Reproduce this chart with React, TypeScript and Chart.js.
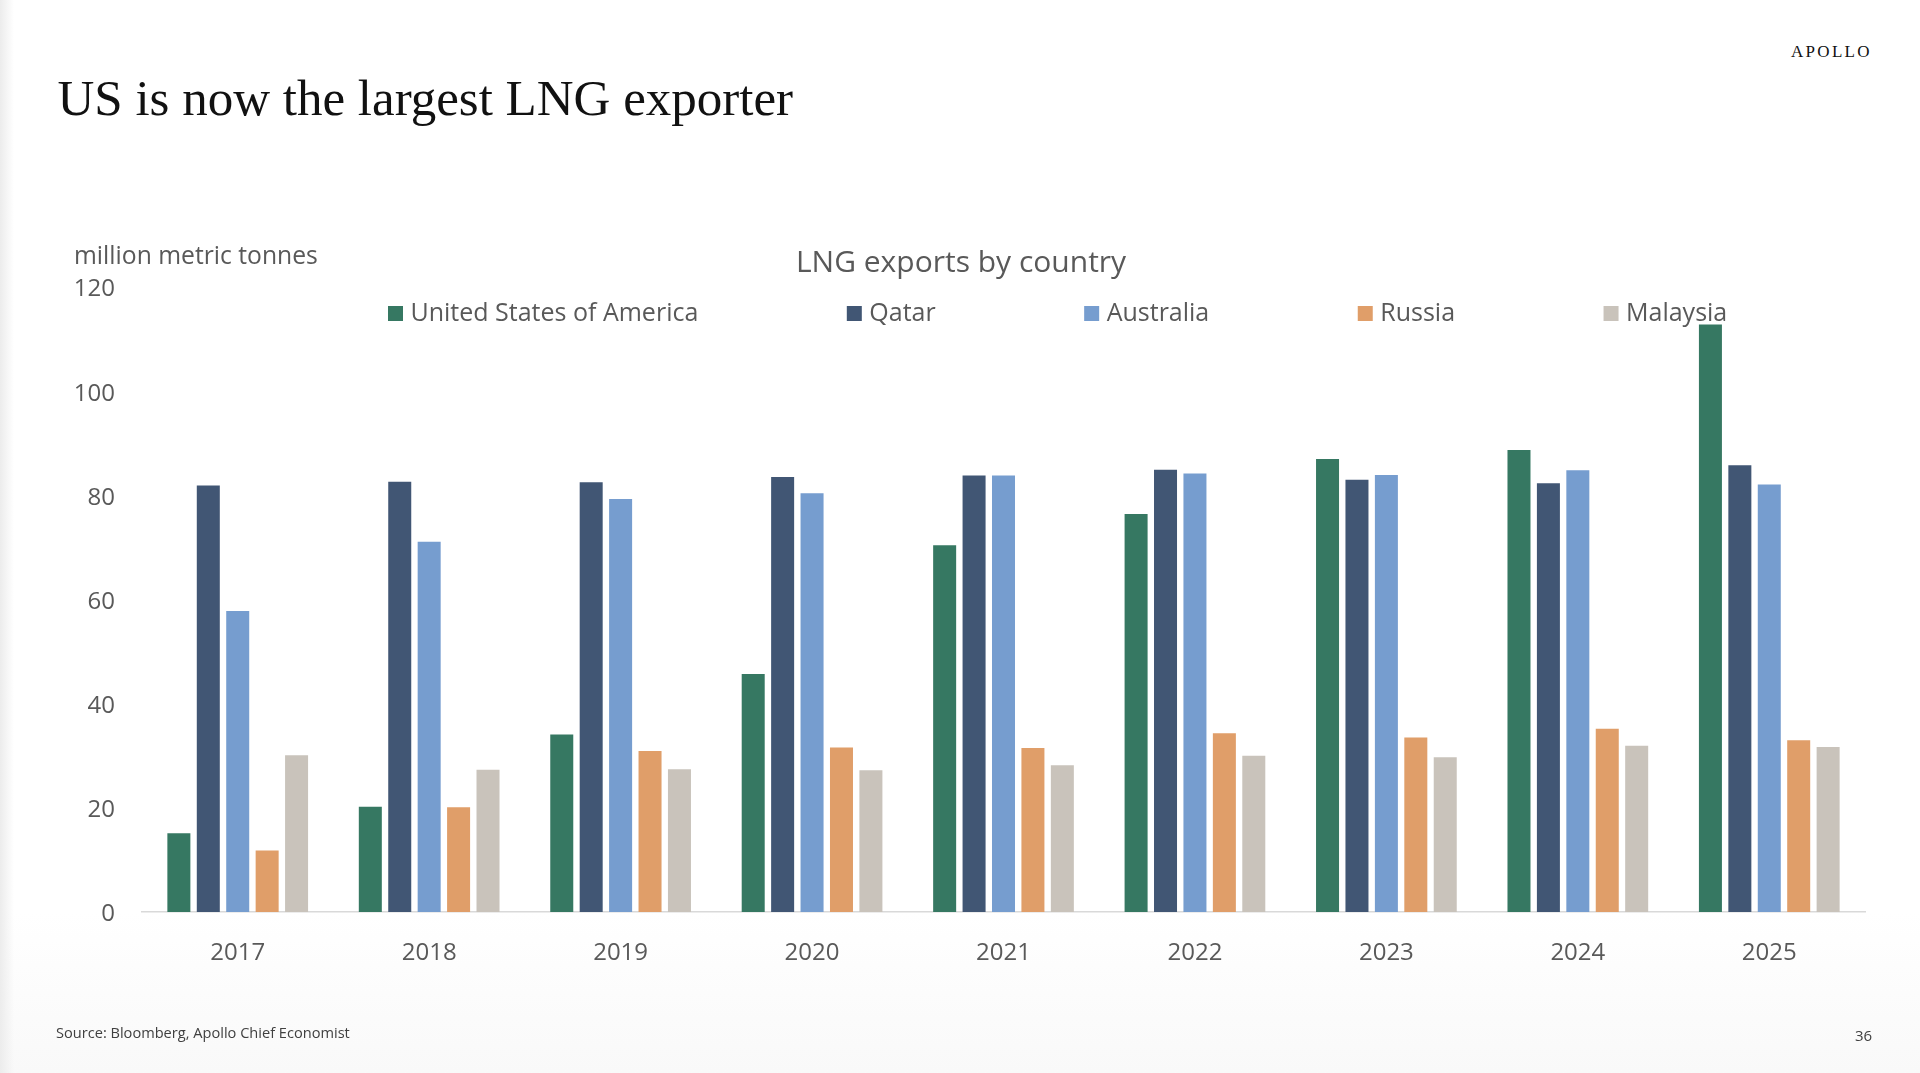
import React, { useEffect, useRef } from "react";
import { Chart, registerables } from "chart.js";

Chart.register(...registerables);

// ---------- data ----------
const years = ["2017", "2018", "2019", "2020", "2021", "2022", "2023", "2024", "2025"];
const seriesNames = ["United States of America", "Qatar", "Australia", "Russia", "Malaysia"];
const usa = [15.1, 20.2, 34.1, 45.7, 70.4, 76.4, 87.0, 88.7, 112.8];
const qatar = [81.9, 82.6, 82.5, 83.5, 83.8, 84.9, 83.0, 82.3, 85.8];
const australia = [57.8, 71.1, 79.3, 80.4, 83.8, 84.2, 83.9, 84.8, 82.1];
const russia = [11.8, 20.1, 30.9, 31.6, 31.5, 34.3, 33.5, 35.2, 33.0];
const malaysia = [30.1, 27.3, 27.4, 27.2, 28.2, 30.0, 29.7, 31.9, 31.7];
const seriesColors = ["#367862", "#415674", "#769DCF", "#E09E69", "#C9C3BB"];
const yMin = 0;
const yMax = 120;
const yStep = 20;

const slideTitle = "US is now the largest LNG exporter";
const chartTitle = "LNG exports by country";
const unitLabel = "million metric tonnes";
const sourceText = "Source: Bloomberg, Apollo Chief Economist";
const pageNumber = "36";
const brand = "APOLLO";

const TEXT = "#595959";
const SANS = "'Open Sans', sans-serif";

const overlayPlugin = {
  id: "overlay",
  afterDatasetsDraw(chart: any) {
    const ctx = chart.ctx as CanvasRenderingContext2D;
    ctx.save();
    ctx.textBaseline = "alphabetic";
    ctx.fillStyle = TEXT;
    // unit label
    ctx.font = `24.7px ${SANS}`;
    ctx.textAlign = "left";
    ctx.fillText(unitLabel, 74, 264);
    // chart title
    ctx.font = `30px ${SANS}`;
    ctx.textAlign = "center";
    ctx.fillText(chartTitle, 961, 272);
    // legend
    ctx.font = `25px ${SANS}`;
    ctx.textAlign = "left";
    let x = 388;
    const box = 15;
    const top = 306;
    const gap = 7.5;
    chart.data.datasets.forEach((ds: any) => {
      ctx.fillStyle = ds.backgroundColor;
      ctx.fillRect(x, top, box, box);
      ctx.fillStyle = TEXT;
      ctx.fillText(ds.label, x + box + gap, top + box);
      x += box + gap + ctx.measureText(ds.label).width + 148.5;
    });
    ctx.restore();
  },
};

export default function App() {
  const canvasRef = useRef<HTMLCanvasElement | null>(null);

  useEffect(() => {
    if (!canvasRef.current) return;
    const values = [usa, qatar, australia, russia, malaysia];
    const chart = new Chart(canvasRef.current, {
      type: "bar",
      data: {
        labels: years,
        datasets: seriesNames.map((name, i) => ({
          label: name,
          data: values[i],
          backgroundColor: seriesColors[i],
          borderWidth: 0,
          categoryPercentage: 0.7685,
          barPercentage: 0.782,
        })),
      },
      options: {
        responsive: false,
        animation: false,
        devicePixelRatio: 1,
        layout: { padding: { left: 0, right: 55, top: 287, bottom: 101 } },
        plugins: {
          legend: { display: false },
          title: { display: false },
          tooltip: { enabled: false },
        },
        scales: {
          x: {
            grid: { display: false, drawTicks: false },
            border: { display: true, color: "#D9D9D9", width: 1.5 },
            ticks: {
              color: TEXT,
              font: { family: SANS, size: 24 },
              padding: 27,
              maxRotation: 0,
            },
            afterFit: (s: any) => {
              s.height = 60;
            },
          },
          y: {
            min: yMin,
            max: yMax,
            grid: { display: false, drawTicks: false },
            border: { display: false },
            ticks: {
              stepSize: yStep,
              color: TEXT,
              font: { family: SANS, size: 24 },
              padding: 27,
              labelOffset: 2.5,
            },
            afterFit: (s: any) => {
              s.width = 142;
            },
          },
        },
      },
      plugins: [overlayPlugin],
    });
    return () => chart.destroy();
  }, []);

  return (
    <div
      style={{
        position: "fixed",
        left: 0,
        top: 0,
        width: 1920,
        height: 1073,
        overflow: "hidden",
        background:
          "linear-gradient(to right, #ececec 0px, rgba(255,255,255,0) 14px), linear-gradient(to bottom, #ffffff 85%, #f9f9f9 100%)",
      }}
    >
      <div
        style={{
          position: "absolute",
          left: 57.5,
          top: 73.3,
          fontFamily: "'Liberation Serif', serif",
          fontSize: 51,
          lineHeight: "51px",
          color: "#111",
          whiteSpace: "nowrap",
        }}
      >
        {slideTitle}
      </div>
      <div
        style={{
          position: "absolute",
          left: 1791,
          top: 42.5,
          fontFamily: "'Liberation Serif', serif",
          fontSize: 17,
          lineHeight: "17px",
          letterSpacing: "2.3px",
          color: "#111",
          whiteSpace: "nowrap",
        }}
      >
        {brand}
      </div>
      <canvas
        ref={canvasRef}
        width={1920}
        height={1073}
        style={{ position: "absolute", left: 0, top: 0, width: 1920, height: 1073 }}
      />
      <div
        style={{
          position: "absolute",
          left: 56,
          top: 1024.7,
          fontFamily: SANS,
          fontSize: 14.6,
          lineHeight: "15px",
          color: "#404040",
          whiteSpace: "nowrap",
        }}
      >
        {sourceText}
      </div>
      <div
        style={{
          position: "absolute",
          left: 1855,
          top: 1027.7,
          fontFamily: SANS,
          fontSize: 15,
          lineHeight: "15px",
          color: "#404040",
          whiteSpace: "nowrap",
        }}
      >
        {pageNumber}
      </div>
    </div>
  );
}
